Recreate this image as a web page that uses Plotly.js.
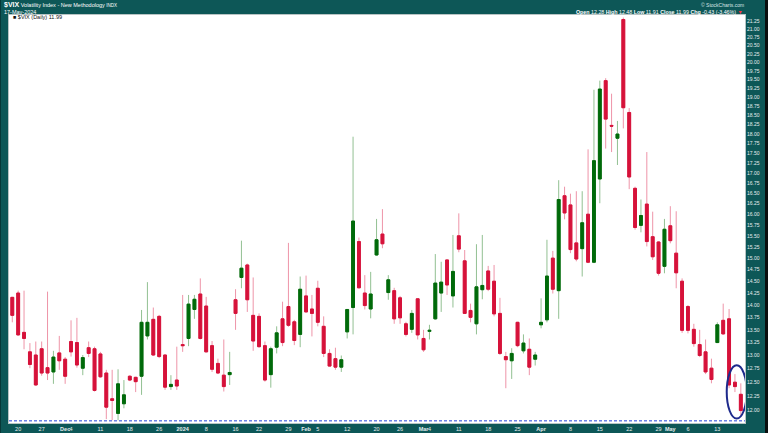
<!DOCTYPE html>
<html><head><meta charset="utf-8">
<script src="https://cdn.plot.ly/plotly-3.0.1.min.js"></script>
<style>html,body{margin:0;padding:0;background:#0d5757;}#chart{width:768px;height:433px;}</style>
</head><body><div id="chart"></div>
<script>
const dates = ['2023-11-17','2023-11-20','2023-11-21','2023-11-22','2023-11-24','2023-11-27','2023-11-28','2023-11-29','2023-11-30','2023-12-01',
'2023-12-04','2023-12-05','2023-12-06','2023-12-07','2023-12-08','2023-12-11','2023-12-12','2023-12-13','2023-12-14','2023-12-15',
'2023-12-18','2023-12-19','2023-12-20','2023-12-21','2023-12-22','2023-12-26','2023-12-27','2023-12-28','2023-12-29','2024-01-02',
'2024-01-03','2024-01-04','2024-01-05','2024-01-08','2024-01-09','2024-01-10','2024-01-11','2024-01-12','2024-01-16','2024-01-17',
'2024-01-18','2024-01-19','2024-01-22','2024-01-23','2024-01-24','2024-01-25','2024-01-26','2024-01-29','2024-01-30','2024-01-31',
'2024-02-01','2024-02-02','2024-02-05','2024-02-06','2024-02-07','2024-02-08','2024-02-09','2024-02-12','2024-02-13','2024-02-14',
'2024-02-15','2024-02-16','2024-02-20','2024-02-21','2024-02-22','2024-02-23','2024-02-26','2024-02-27','2024-02-28','2024-02-29',
'2024-03-01','2024-03-04','2024-03-05','2024-03-06','2024-03-07','2024-03-08','2024-03-11','2024-03-12','2024-03-13','2024-03-14',
'2024-03-15','2024-03-18','2024-03-19','2024-03-20','2024-03-21','2024-03-22','2024-03-25','2024-03-26','2024-03-27','2024-03-28',
'2024-04-01','2024-04-02','2024-04-03','2024-04-04','2024-04-05','2024-04-08','2024-04-09','2024-04-10','2024-04-11','2024-04-12',
'2024-04-15','2024-04-16','2024-04-17','2024-04-18','2024-04-19','2024-04-22','2024-04-23','2024-04-24','2024-04-25','2024-04-26',
'2024-04-29','2024-04-30','2024-05-01','2024-05-02','2024-05-03','2024-05-06','2024-05-07','2024-05-08','2024-05-09','2024-05-10',
'2024-05-13','2024-05-14','2024-05-15','2024-05-16','2024-05-17'];

const openVals = [14.16,14.25,13.45,13.07,13.01,13.13,12.77,12.69,13.05,12.93,
13.27,13.25,12.76,13.15,13.13,13.03,12.67,12.20,11.94,12.11,
12.61,12.59,12.61,13.38,13.71,13.77,13.01,12.42,12.54,13.21,
13.33,13.91,14.23,13.98,13.19,12.85,12.63,12.64,14.11,14.58,
14.85,13.79,13.77,13.19,12.64,13.16,13.72,13.97,13.66,13.41,
14.19,13.92,14.35,13.57,13.04,12.94,12.78,13.46,13.95,15.37,
14.25,13.92,15.07,15.54,14.26,14.30,14.15,13.62,13.51,14.13,
13.33,13.47,13.72,14.25,14.96,14.19,15.50,14.94,13.89,13.62,
14.32,14.72,14.50,13.83,12.98,12.90,13.65,13.09,13.12,12.93,
13.60,13.70,15.00,14.30,16.44,16.22,15.34,15.21,16.00,14.91,
16.85,19.47,18.23,17.89,21.30,18.58,16.62,15.74,16.24,15.48,
15.36,14.82,15.73,15.11,14.50,13.97,13.51,13.21,13.07,12.76,
13.25,13.69,13.72,12.50,12.28];

const highVals = [14.17,14.30,14.30,13.24,13.27,13.27,14.28,13.09,13.38,12.97,
13.69,13.74,13.01,13.27,13.17,13.07,12.73,12.73,12.74,12.54,
12.63,12.60,13.90,14.48,13.95,13.80,13.02,12.63,13.17,14.21,
14.21,14.21,14.56,14.17,13.28,12.94,13.31,13.07,14.33,15.39,
14.88,14.58,13.83,13.27,13.17,13.57,14.07,15.34,13.70,14.60,
14.62,14.21,14.51,13.77,13.12,13.15,13.00,13.92,17.93,15.46,
14.63,14.70,15.89,16.12,14.63,14.36,14.19,13.66,13.90,14.14,
13.50,13.60,15.09,14.92,14.97,15.52,16.02,15.18,14.03,15.31,
15.52,14.83,14.85,14.15,13.07,13.14,13.66,13.41,13.33,13.07,
14.14,15.41,15.16,16.82,16.66,16.49,16.55,16.55,17.60,19.21,
19.47,19.54,19.10,18.35,21.36,18.70,16.66,16.35,17.53,16.06,
15.38,15.89,16.19,16.07,14.56,14.00,13.62,13.50,13.31,12.94,
13.65,14.03,13.92,12.65,12.48];

const lowVals = [13.65,13.38,13.12,12.76,12.43,12.62,12.54,12.47,12.73,12.47,
12.98,12.77,12.63,12.97,12.33,12.58,11.84,11.82,11.82,12.03,
12.52,12.32,12.27,13.31,12.99,12.95,12.36,12.36,12.36,13.07,
13.18,13.72,13.31,13.06,12.69,12.65,12.33,12.45,13.50,14.35,
13.86,13.09,13.15,12.51,12.40,13.04,13.18,13.56,13.20,13.16,
13.85,13.37,13.57,12.97,12.79,12.73,12.69,13.33,13.41,14.35,
13.91,13.73,15.05,15.22,14.11,13.62,13.62,13.37,13.44,13.31,
13.07,13.31,13.70,13.86,14.21,13.95,15.13,13.82,13.65,13.41,
14.12,14.29,13.77,13.01,12.39,12.56,13.16,13.04,12.63,12.81,
13.53,13.65,14.24,13.72,15.88,15.11,14.93,14.60,14.89,14.89,
16.26,17.62,17.53,17.20,18.15,16.60,15.64,15.58,15.26,14.96,
14.62,14.67,15.33,14.35,13.44,13.43,13.17,12.97,12.65,12.48,
13.24,13.40,12.39,12.32,11.91];

const closeVals = [13.79,13.40,13.33,12.83,12.45,12.67,12.67,12.97,12.90,12.61,
13.07,12.82,12.96,13.04,12.35,12.60,12.05,12.17,12.47,12.27,
12.54,12.51,13.65,13.65,13.01,12.98,12.41,12.46,12.43,13.19,
14.02,14.12,13.33,13.07,12.74,12.67,12.42,12.68,13.83,14.78,
14.11,13.28,13.17,12.54,13.13,13.44,13.25,13.59,13.29,14.33,
13.86,13.83,13.65,13.04,12.80,12.78,12.92,13.91,15.84,14.36,
13.99,14.23,15.41,15.32,14.53,13.72,13.74,13.41,13.83,13.40,
13.11,13.49,14.46,14.48,14.42,14.71,15.20,13.83,13.75,14.38,
14.41,14.33,13.82,13.04,12.92,13.04,13.19,13.24,12.78,13.01,
13.65,14.61,14.33,16.35,16.03,15.19,14.98,15.80,14.91,17.31,
19.23,18.40,18.21,18.00,18.71,16.90,15.69,15.97,15.37,15.03,
14.67,15.65,15.39,14.68,13.49,13.49,13.23,13.00,12.69,12.55,
13.60,13.42,12.45,12.42,11.99];

const yTickVals = [12.00,12.25,12.50,12.75,13.00,13.25,13.50,13.75,14.00,14.25,14.50,14.75,15.00,15.25,15.50,15.75,
16.00,16.25,16.50,16.75,17.00,17.25,17.50,17.75,18.00,18.25,18.50,18.75,19.00,19.25,19.50,19.75,20.00,20.25,20.50,20.75,21.00,21.25];

const xTickVals = ['2023-11-20','2023-11-27','2023-12-01','2023-12-04','2023-12-11','2023-12-18','2023-12-26','2024-01-02','2024-01-08',
'2024-01-16','2024-01-22','2024-01-29','2024-02-01','2024-02-05','2024-02-12','2024-02-20','2024-02-26','2024-03-01','2024-03-04',
'2024-03-11','2024-03-18','2024-03-25','2024-04-01','2024-04-08','2024-04-15','2024-04-22','2024-04-29','2024-05-01','2024-05-06','2024-05-13'];
const xTickText = ['20','27','<b>Dec</b>','4','11','18','26','<b>2024</b>','8',
'16','22','29','<b>Feb</b>','5','12','20','26','<b>Mar</b>','4',
'11','18','25','<b>Apr</b>','8','15','22','29','<b>May</b>','6','13'];

const refLevel = 11.81;
const lastOpen = 12.28, lastHigh = 12.48, lastLow = 11.91, lastClose = 11.99, lastChg = -0.43, lastChgPct = -3.46;

const RED = '#d6123a', GREEN = '#006a0a';
const RED_WICK = '#ee94a8', GREEN_WICK = '#92c092';

const bodyHigh = openVals.map((o, i) => Math.max(o, closeVals[i]));
const bodyLow = openVals.map((o, i) => Math.min(o, closeVals[i]));

const wickTrace = {
  type: 'candlestick', x: dates, open: openVals, high: highVals, low: lowVals, close: closeVals,
  increasing: {line: {color: GREEN_WICK, width: 1}, fillcolor: GREEN},
  decreasing: {line: {color: RED_WICK, width: 1}, fillcolor: RED},
  hoverinfo: 'skip', showlegend: false
};
const bodyTrace = {
  type: 'candlestick', x: dates, open: openVals, high: bodyHigh, low: bodyLow, close: closeVals,
  increasing: {line: {color: GREEN, width: 1}, fillcolor: GREEN},
  decreasing: {line: {color: RED, width: 1}, fillcolor: RED},
  hoverinfo: 'skip', showlegend: false
};

const n = dates.length;
const lastLows = lowVals.slice(n - 2), lastHighs = highVals.slice(n - 2);
const ellipseY0 = Math.min(...lastLows) * 0.995;
const ellipseY1 = Math.max(...lastHighs) * 1.013;

const px = v => (v - 9) / 736;
const py = v => (423 - v) / 408;

const layout = {
  width: 768, height: 433,
  margin: {l: 9, r: 23, t: 15, b: 10, pad: 0},
  paper_bgcolor: '#0d5757', plot_bgcolor: '#ffffff',
  showlegend: false, hovermode: false,
  font: {family: 'Liberation Sans, Arial, sans-serif', color: '#ffffff', size: 6},
  xaxis: {
    type: 'category', range: [-0.56, n - 0.29], rangeslider: {visible: false},
    tickmode: 'array', tickvals: xTickVals, ticktext: xTickText, tickangle: 0,
    ticks: '', showgrid: false, zeroline: false,
    showline: true, linecolor: '#b8c4c4', linewidth: 1, mirror: true,
    tickfont: {size: 5.5, color: '#e6eeee'}, fixedrange: true
  },
  yaxis: {
    type: 'log', side: 'right', range: [1.07088, 1.33125],
    tickmode: 'array', tickvals: yTickVals, ticktext: yTickVals.map(v => v.toFixed(2)),
    ticks: '', showgrid: false, zeroline: false,
    showline: true, linecolor: '#b8c4c4', linewidth: 1, mirror: true,
    tickfont: {size: 5, color: '#e6eeee'}, fixedrange: true
  },
  shapes: [
    {type: 'line', xref: 'paper', x0: 0, x1: 1, yref: 'y', y0: refLevel, y1: refLevel,
     line: {color: '#2040d8', width: 1, dash: '3px,2px'}},
    {type: 'circle', xref: 'x', yref: 'y', x0: n - 3.4, x1: n, y0: ellipseY0, y1: ellipseY1,
     line: {color: '#1e2a8c', width: 2}},
    {type: 'rect', xref: 'paper', yref: 'paper', x0: px(765), x1: px(770), y0: py(440), y1: py(-5),
     fillcolor: '#0a0f0f', line: {width: 0}},
    {type: 'rect', xref: 'paper', yref: 'paper', x0: px(-2), x1: px(1), y0: py(440), y1: py(-5),
     fillcolor: '#073838', line: {width: 0}}
  ],
  annotations: [
    {xref: 'paper', yref: 'paper', x: px(2), y: py(5), xanchor: 'left', yanchor: 'middle', showarrow: false,
     text: '<b><span style="font-size:7px">$VIX</span></b> Volatility Index - New Methodology <span style="font-size:4.5px">INDX</span>',
     font: {size: 5.5, color: '#ffffff'}},
    {xref: 'paper', yref: 'paper', x: px(2), y: py(11.5), xanchor: 'left', yanchor: 'middle', showarrow: false,
     text: '17-May-2024', font: {size: 5.5, color: '#ffffff'}},
    {xref: 'paper', yref: 'paper', x: px(746), y: py(4.5), xanchor: 'right', yanchor: 'middle', showarrow: false,
     text: '© StockCharts.com', font: {size: 5, color: '#d8e4e4'}},
    {xref: 'paper', yref: 'paper', x: px(745), y: py(12), xanchor: 'right', yanchor: 'middle', showarrow: false,
     text: '<b>Open</b> ' + lastOpen.toFixed(2) + ' <b>High</b> ' + lastHigh.toFixed(2) + ' <b>Low</b> ' + lastLow.toFixed(2) +
           ' <b>Close</b> ' + lastClose.toFixed(2) + ' <b>Chg</b> ' + lastChg.toFixed(2) + ' (' + lastChgPct.toFixed(2) + '%) <span style="color:#ff3040">▼</span>',
     font: {size: 5.3, color: '#ffffff'}},
    {xref: 'paper', yref: 'paper', x: px(11), y: py(17.5), xanchor: 'left', yanchor: 'middle', showarrow: false,
     text: '■ $VIX (Daily) ' + lastClose.toFixed(2), font: {size: 5.5, color: '#111111'}}
  ]
};

Plotly.newPlot('chart', [wickTrace, bodyTrace], layout, {displayModeBar: false, staticPlot: true});
</script>
</body></html>
